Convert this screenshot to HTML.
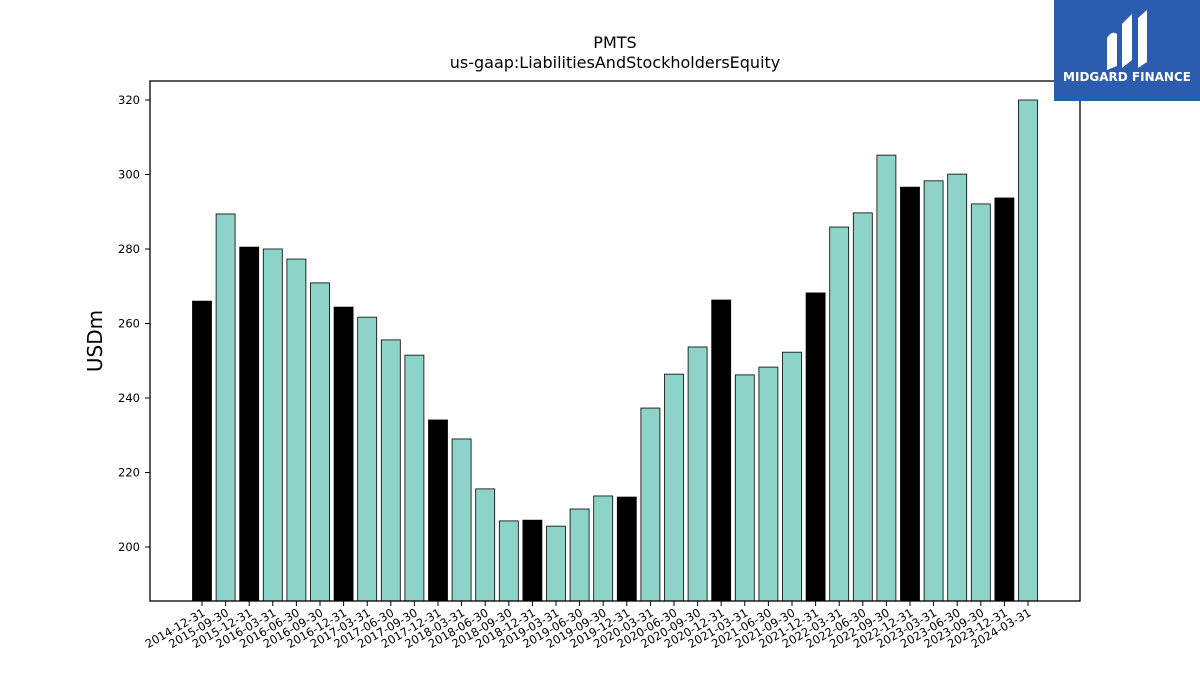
<!DOCTYPE html>
<html><head><meta charset="utf-8"><style>
body{margin:0;background:#fff;font-family:"Liberation Sans","DejaVu Sans",sans-serif;}
svg text{font-family:"DejaVu Sans","Liberation Sans",sans-serif;}
</style></head><body>
<svg id="chart" width="1200" height="675" viewBox="0 0 1200 675">
<rect width="1200" height="675" fill="#fff"/>
<text x="615" y="48" text-anchor="middle" font-size="16">PMTS</text>
<text x="615" y="68" text-anchor="middle" font-size="16">us-gaap:LiabilitiesAndStockholdersEquity</text>
<text transform="translate(102,341) rotate(-90)" text-anchor="middle" font-size="20">USDm</text>
<g id="bars"></g><g id="yticks"></g><g id="xticks"></g>
<rect x="150" y="81" width="930" height="520" fill="none" stroke="#000" stroke-width="1.3"/>
<g>
<rect x="1054" y="0" width="146" height="101" fill="#2b5cb0"/>
<path d="M1107 70 L1107 38 Q1112 30 1117 34 L1117 66 Z M1122 68 L1122 24 L1132 14 L1132 60 Z M1138 68 L1138 18 L1147 10 L1147 62 Z" fill="#fff"/>
<text x="1127" y="81" text-anchor="middle" font-size="12" font-weight="bold" fill="#fff">MIDGARD FINANCE</text>
</g>
</svg>
<script>
const categories=["2014-12-31","2015-09-30","2015-12-31","2016-03-31","2016-06-30","2016-09-30","2016-12-31","2017-03-31","2017-06-30","2017-09-30","2017-12-31","2018-03-31","2018-06-30","2018-09-30","2018-12-31","2019-03-31","2019-06-30","2019-09-30","2019-12-31","2020-03-31","2020-06-30","2020-09-30","2020-12-31","2021-03-31","2021-06-30","2021-09-30","2021-12-31","2022-03-31","2022-06-30","2022-09-30","2022-12-31","2023-03-31","2023-06-30","2023-09-30","2023-12-31","2024-03-31"];
const values=[266.0,289.4,280.5,280.0,277.3,270.9,264.4,261.7,255.6,251.5,234.1,229.0,215.6,207.0,207.2,205.6,210.2,213.7,213.4,237.3,246.4,253.7,266.3,246.2,248.3,252.3,268.2,285.9,289.7,305.2,296.6,298.3,300.1,292.1,293.7,320.0];
const yTicks=[200,220,240,260,280,300,320];
(function(){
const NS="http://www.w3.org/2000/svg";
const yMin=185.5,yMax=325.1,plotTop=81,plotBot=601;
const y=v=>plotBot-(v-yMin)/(yMax-yMin)*(plotBot-plotTop);
const step=(1028-202)/(categories.length-1);
const x=i=>202+i*step;
const bw=19;
function mk(t,a,p){const e=document.createElementNS(NS,t);for(const k in a)e.setAttribute(k,a[k]);p.appendChild(e);return e;}
const bars=document.getElementById('bars'),yt=document.getElementById('yticks'),xt=document.getElementById('xticks');
values.forEach((v,i)=>{
 const r=mk('rect',{x:x(i)-bw/2,y:y(v),width:bw,height:plotBot-y(v),fill:categories[i].endsWith('12-31')?'#000':'#8dd3c7',stroke:'#000','stroke-width':0.8},bars);
 
 
 const tk=mk('line',{x1:x(i),x2:x(i),y1:plotBot,y2:plotBot+5,stroke:'#000'},xt);
 
 
 const t=mk('text',{transform:`translate(${x(i)+4},${plotBot+14}) rotate(-30)`,'text-anchor':'end','font-size':11.5},xt);
 t.textContent=categories[i];
 
 
});
yTicks.forEach(v=>{
 const l=mk('line',{x1:145,x2:150,y1:y(v),y2:y(v),stroke:'#000'},yt);
 
 
 const t=mk('text',{x:140,y:y(v)+4,'text-anchor':'end','font-size':11.5},yt);
 t.textContent=v;
 
 
});
})();
</script>
</body></html>
